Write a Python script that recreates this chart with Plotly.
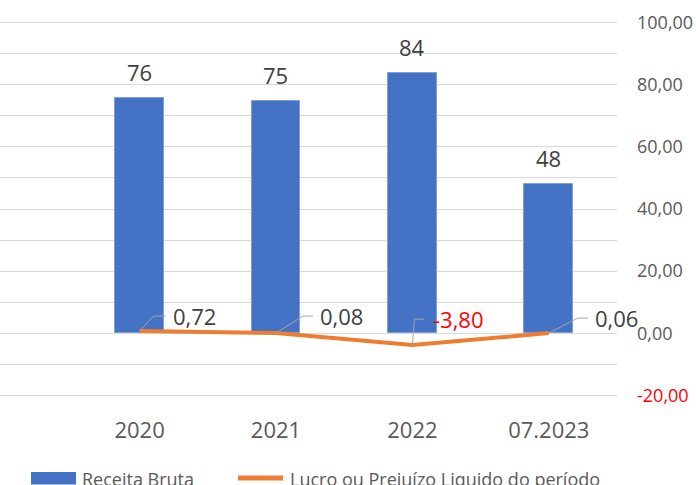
import plotly.graph_objects as go

categories = ["2020", "2021", "2022", "07.2023"]
receita_bruta = [75.6, 74.8, 83.7, 48.2]
lucro_prejuizo = [0.72, 0.08, -3.80, 0.06]
y_tick_values = [-20, -10, 0, 10, 20, 30, 40, 50, 60, 70, 80, 90, 100]
y_tick_labels = ["-20,00", "", "0,00", "", "20,00", "", "40,00", "", "60,00", "", "80,00", "", "100,00"]
series_names = ["Receita Bruta", "Lucro ou Prejuízo Liquido do período"]

# styling
BLUE = "#4472C4"
ORANGE = "#ED7D31"
GRID = "#D9D9D9"
AXIS_TXT = "#595959"
LABEL_TXT = "#404040"
RED = "#FF0000"
FONT = "Open Sans"
# leader-line / label pixel offsets per line point: (elbow dx, elbow dy, end dx, label dx)
leader_offsets = [(14, 15, 26, 31), (27, 17, 37, 42), (2, 26, 12, 19), (29, 15, 39, 44)]

xs = list(range(len(categories)))

fig = go.Figure()
fig.add_trace(go.Bar(
    x=xs, y=receita_bruta, name=series_names[0], width=0.357,
    marker=dict(color=BLUE, line=dict(color="#7F9FD8", width=1)),
    showlegend=False, hoverinfo="skip"))
fig.add_trace(go.Scatter(
    x=xs, y=lucro_prejuizo, name=series_names[1], mode="lines",
    line=dict(color=ORANGE, width=4), showlegend=False, hoverinfo="skip"))

annotations = []
shapes = []
for x, v in zip(xs, receita_bruta):
    annotations.append(dict(x=x, y=v, xref="x", yref="y", text=f"{v:.0f}",
                            showarrow=False, yanchor="middle", yshift=26,
                            font=dict(family=FONT, size=22, color=LABEL_TXT)))
for x, v, off in zip(xs, lucro_prejuizo, leader_offsets):
    edx, edy, endx, ldx = off
    txt = f"{v:.2f}".replace(".", ",")
    col = RED if v < 0 else LABEL_TXT
    annotations.append(dict(x=x, y=v, xref="x", yref="y", text=txt, showarrow=False,
                            xanchor="left", yanchor="middle", xshift=ldx, yshift=edy,
                            font=dict(family=FONT, size=22, color=col)))
    shapes.append(dict(type="path", xref="x", yref="y", xsizemode="pixel", ysizemode="pixel",
                       xanchor=x, yanchor=v,
                       path=f"M0,0 L{edx},{edy} L{endx},{edy}",
                       line=dict(color="#A6A6A6", width=1)))

# custom legend (pixel offsets from the plot's bottom-left corner)
shapes.append(dict(type="rect", xref="paper", yref="paper", xsizemode="pixel", ysizemode="pixel",
                   xanchor=0, yanchor=0, x0=31, x1=76, y0=-75, y1=-87.5,
                   fillcolor=BLUE, line=dict(width=0)))
shapes.append(dict(type="line", xref="paper", yref="paper", xsizemode="pixel", ysizemode="pixel",
                   xanchor=0, yanchor=0, x0=238, x1=283, y0=-81, y1=-81,
                   line=dict(color=ORANGE, width=5)))
annotations.append(dict(x=0, y=0, xref="paper", yref="paper", xshift=80, yshift=-82,
                        xanchor="left", yanchor="middle", showarrow=False, text=series_names[0],
                        font=dict(family=FONT, size=18, color=AXIS_TXT)))
annotations.append(dict(x=0, y=0, xref="paper", yref="paper", xshift=288, yshift=-82,
                        xanchor="left", yanchor="middle", showarrow=False, text=series_names[1],
                        font=dict(family=FONT, size=18, color=AXIS_TXT)))

ticktext = [f"<span style='color:{RED}'>{t}</span>" if t.startswith("-") else t for t in y_tick_labels]

fig.update_layout(
    width=696, height=485,
    margin=dict(l=0, r=79, t=20.5, b=88.4, autoexpand=False),
    paper_bgcolor="white", plot_bgcolor="white",
    showlegend=False,
    bargap=0,
    xaxis=dict(range=[-1.023, 3.5], tickvals=xs, ticktext=categories, showgrid=False,
               zeroline=False, showline=False, ticks="", ticklabelstandoff=18, automargin=False,
               tickfont=dict(family=FONT, size=22, color=AXIS_TXT), fixedrange=True),
    yaxis=dict(range=[-20.5, 100.5], side="right", tickvals=y_tick_values, ticktext=ticktext,
               showgrid=True, gridcolor=GRID, gridwidth=1, zeroline=False, showline=False,
               ticks="", ticklabelstandoff=19, automargin=False,
               tickfont=dict(family=FONT, size=18, color=AXIS_TXT), fixedrange=True),
    annotations=annotations,
    shapes=shapes,
)

fig.write_html("out.html", config={"displayModeBar": False},
               post_script="document.body.style.margin='0px';document.body.style.overflow='hidden';")
